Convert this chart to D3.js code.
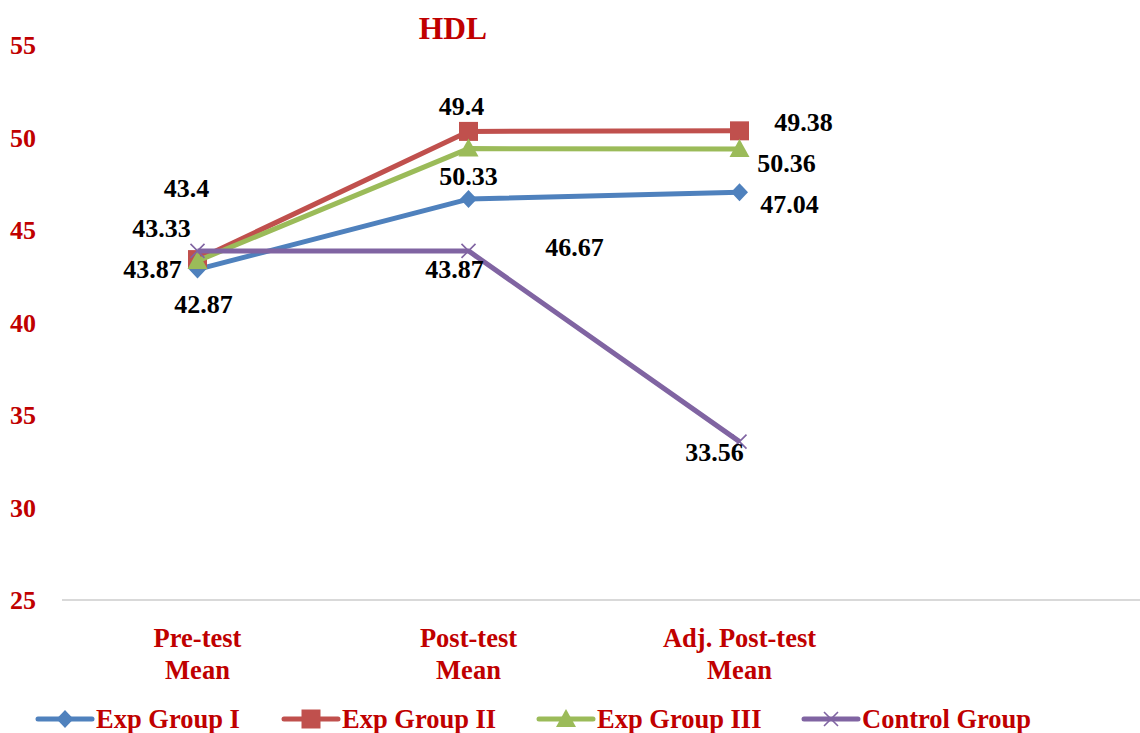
<!DOCTYPE html>
<html>
<head>
<meta charset="utf-8">
<script src="https://cdn.jsdelivr.net/npm/d3@7/dist/d3.min.js"></script>
<style>
  html, body { margin: 0; padding: 0; background: #fff; }
  svg { display: block; }
  text { font-family: "Liberation Serif", "Times New Roman", serif; font-weight: bold; }
</style>
</head>
<body>
<svg id="chart" width="1140" height="733"></svg>
<script>
// HDL means per group across the three measurements
const categories = ["Pre-test Mean", "Post-test Mean", "Adj. Post-test Mean", ""];
const categoryLines = [["Pre-test", "Mean"], ["Post-test", "Mean"], ["Adj. Post-test", "Mean"], []];
const seriesNames = ["Exp Group I", "Exp Group II", "Exp Group III", "Control Group"];
const expGroupI = [42.87, 46.67, 47.04];
const expGroupII = [43.4, 50.33, 50.36];
const expGroupIII = [43.33, 49.4, 49.38];
const controlGroup = [43.87, 43.87, 33.56];
const yTicks = [25, 30, 35, 40, 45, 50, 55];

// label nudges (px) so the value labels do not sit on top of each other
const labelNudge = [
  [[6, 35], [106, 48], [50, 12]],
  [[-11, -72], [0, 45], [47, 32]],
  [[-36, -33], [-7, -43], [64, -27]],
  [[-45, 18], [-14, 18], [-25, 10]]
];

const colors = ["#4F81BD", "#C0504D", "#9BBB59", "#8064A2"];
const markers = ["diamond", "square", "triangle", "cross"];
const textRed = "#C00000";

const series = [expGroupI, expGroupII, expGroupIII, controlGroup].map((values, i) => ({
  name: seriesNames[i], values, color: colors[i], marker: markers[i], nudge: labelNudge[i]
}));

const svg = d3.select("#chart");

const x = d3.scaleBand().domain(categories.map((c, i) => i)).range([62, 1146]);
const y = d3.scaleLinear().domain([25, 55]).range([600, 45]);
const cx = i => x(i) + x.bandwidth() / 2;

// baseline
svg.append("line")
  .attr("x1", 62).attr("x2", 1140)
  .attr("y1", y(25)).attr("y2", y(25))
  .attr("stroke", "#d9d9d9").attr("stroke-width", 2);

// y tick labels
svg.append("g").selectAll("text").data(yTicks).join("text")
  .attr("x", 36).attr("y", d => y(d) + 9)
  .attr("text-anchor", "end")
  .attr("font-size", 26).attr("fill", textRed)
  .text(d => d);

// category labels
const catG = svg.append("g");
categoryLines.forEach((lines, i) => {
  lines.forEach((ln, j) => {
    catG.append("text")
      .attr("x", cx(i)).attr("y", 647 + j * 32)
      .attr("text-anchor", "middle")
      .attr("font-size", 26.5).attr("fill", textRed)
      .text(ln);
  });
});

// title
svg.append("text")
  .attr("x", 453).attr("y", 39)
  .attr("text-anchor", "middle")
  .attr("font-size", 31.5).attr("fill", textRed)
  .text("HDL");

function markerPath(type) {
  if (type === "diamond") return "M0,-9L8.5,0L0,9L-8.5,0Z";
  if (type === "square") return "M-9.5,-9.5H9.5V9.5H-9.5Z";
  if (type === "triangle") return "M0,-10L10,8H-10Z";
  return "M-7,-7L7,7M-7,7L7,-7";
}

function drawMarker(g, type, color) {
  const p = g.append("path").attr("d", markerPath(type));
  if (type === "cross") {
    p.attr("fill", "none").attr("stroke", color).attr("stroke-width", 1.6);
  } else {
    p.attr("fill", color);
  }
}

const line = d3.line().x((d, i) => cx(i)).y(d => y(d));

series.forEach(s => {
  const g = svg.append("g");
  g.append("path").datum(s.values)
    .attr("d", line)
    .attr("fill", "none").attr("stroke", s.color)
    .attr("stroke-width", 5).attr("stroke-linejoin", "round");
  s.values.forEach((v, i) => {
    const m = g.append("g").attr("transform", `translate(${cx(i)},${y(v)})`);
    drawMarker(m, s.marker, s.color);
  });
});

// value labels
series.forEach(s => {
  s.values.forEach((v, i) => {
    svg.append("text")
      .attr("x", cx(i) + s.nudge[i][0])
      .attr("y", y(v) + s.nudge[i][1] + 9)
      .attr("text-anchor", "middle")
      .attr("font-size", 26).attr("fill", "#000")
      .text(v);
  });
});

// legend
const legendX = [38, 284, 539, 804];
series.forEach((s, i) => {
  const g = svg.append("g").attr("transform", `translate(${legendX[i]},719)`);
  g.append("line").attr("x1", 0).attr("x2", 54).attr("y1", 0).attr("y2", 0)
    .attr("stroke", s.color).attr("stroke-width", 5).attr("stroke-linecap", "round");
  drawMarker(g.append("g").attr("transform", "translate(27,0)"), s.marker, s.color);
  g.append("text").attr("x", 58).attr("y", 9)
    .attr("font-size", 26.5).attr("fill", textRed)
    .text(s.name);
});
</script>
</body>
</html>
